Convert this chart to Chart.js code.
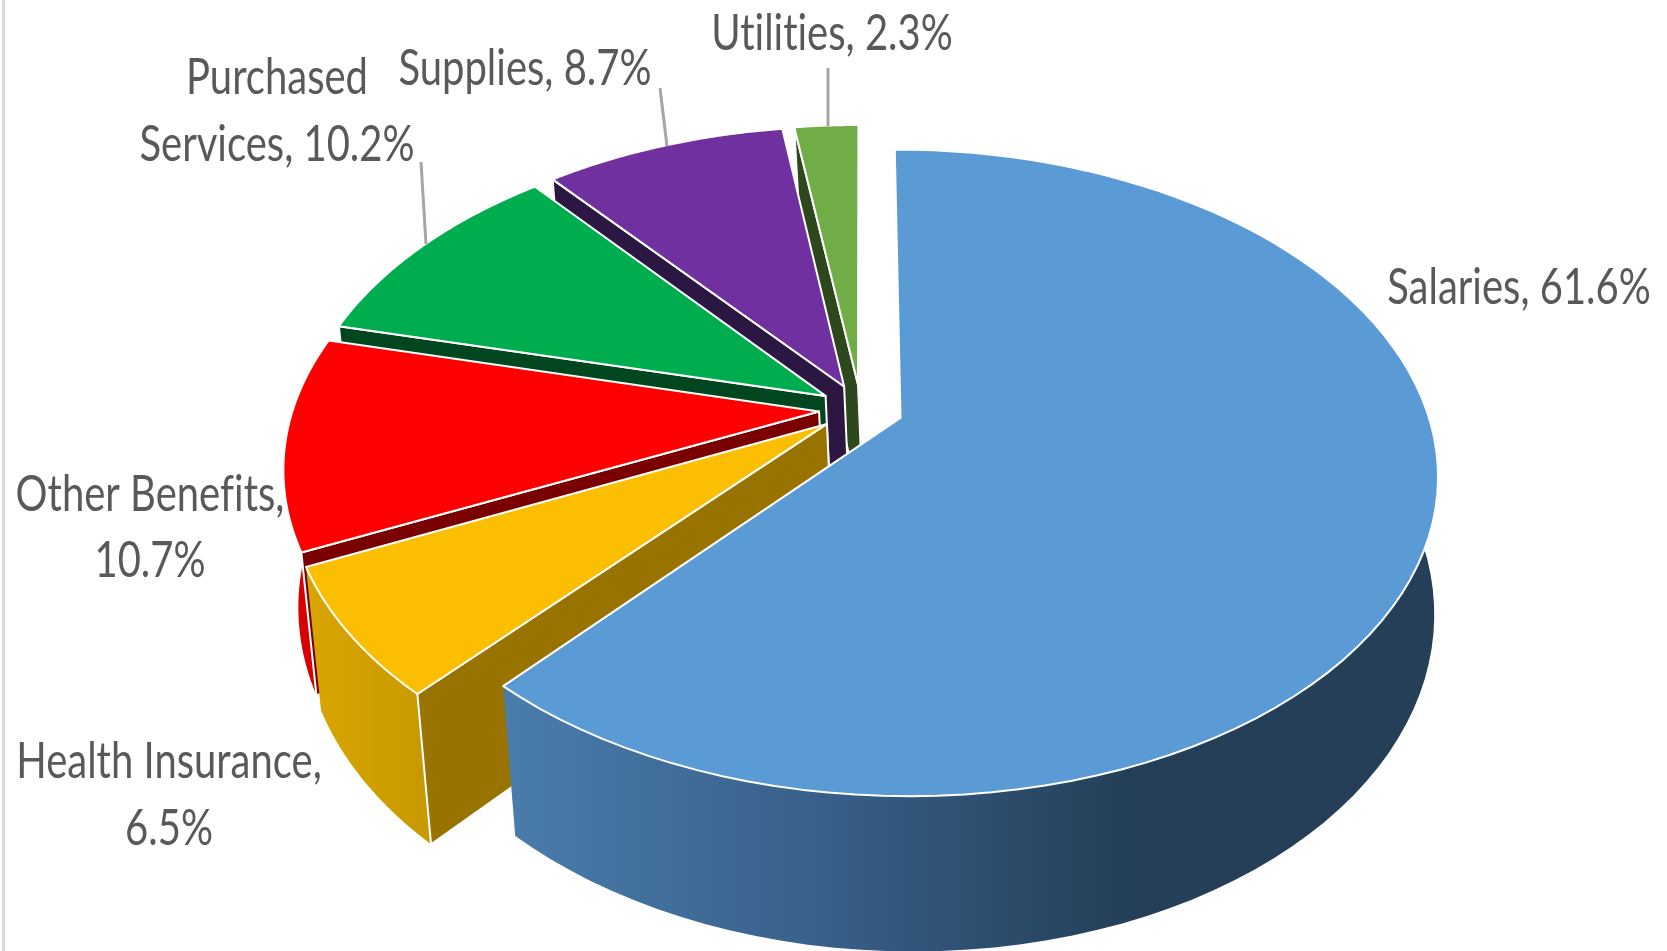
<!DOCTYPE html>
<html>
<head>
<meta charset="utf-8">
<title>Expenses by category</title>
<style>
  body { margin: 0; background: #fff; }
  #box { position: relative; width: 1667px; height: 951px; overflow: hidden; }
  #box::before { content: ""; position: absolute; left: 2px; top: 0; width: 3px; height: 951px; background: #d9d9d9; }
  canvas { display: block; }
</style>
<script src="https://cdn.jsdelivr.net/npm/chart.js@4"></script>
</head>
<body>
<div id="box"><canvas id="grafico" width="1667" height="951"></canvas></div>
<script>
const categories = ["Salaries", "Health Insurance", "Other Benefits", "Purchased Services", "Supplies", "Utilities"];
const values = [61.6, 6.5, 10.7, 10.2, 8.7, 2.3];

const topColors = ["#5b9bd5", "#fcbe00", "#ff0000", "#00ad4e", "#7030a0", "#70ad47"];
const cutColors = ["#2f5375", "#987300", "#7a0000", "#00471f", "#2c1642", "#2d481c"];
const sideColors = [
  [[0, "#4a7dac"], [0.5, "#38608a"], [1, "#243f57"]],
  [[0, "#d9a600"], [1, "#c79800"]],
  [[0, "#d80000"], [1, "#d80000"]],
  [[0, "#008c3e"], [1, "#008c3e"]],
  [[0, "#4d2170"], [1, "#4d2170"]],
  [[0, "#4f7a32"], [1, "#4f7a32"]]
];

// wrapped label rows, one list per category
const labelRows = [
  ["Salaries, 61.6%"],
  ["Health Insurance,", "6.5%"],
  ["Other Benefits,", "10.7%"],
  ["Purchased", "Services, 10.2%"],
  ["Supplies, 8.7%"],
  ["Utilities, 2.3%"]
];
const labelCentres = [[1519, 288], [169, 762], [150, 495], [277, 78], [525, 69], [832, 34]];
const rowGap = [0, 67, 66, 67, 0, 0];
const leaders = [
  [[828, 68], [828, 126]],
  [[660, 88], [667, 146]],
  [[421, 162], [426, 244]]
];

// tilted disc projection, u/v in disc radii and z from top face (0) to bottom face (1)
const cam = { x: 861, y: 409, rx: 526, ry: 311, tilt: 0.169, depth: 137, drop: 0.016, shear: 5.6 };
const explode = 0.08;

function project(u, v, z) {
  const w = 1 - cam.tilt * v + cam.drop * z;
  return [cam.x + cam.rx * u / w + cam.shear * z, cam.y + (cam.ry * v + cam.depth * z) / w];
}

function tracar(ctx, pts) {
  ctx.beginPath();
  pts.forEach((p, i) => (i ? ctx.lineTo(p[0], p[1]) : ctx.moveTo(p[0], p[1])));
  ctx.closePath();
}

function face(ctx, pts, fill) {
  tracar(ctx, pts);
  ctx.fillStyle = fill;
  ctx.fill();
  ctx.strokeStyle = "#fff";
  ctx.lineWidth = 2;
  ctx.lineJoin = "round";
  ctx.stroke();
}

function area(pts) {
  let soma = 0;
  pts.forEach((p, i) => {
    const q = pts[(i + 1) % pts.length];
    soma += p[0] * q[1] - q[0] * p[1];
  });
  return soma;
}

function drawSlice(ctx, arc, i) {
  const mid = (arc.startAngle + arc.endAngle) / 2;
  const ox = Math.cos(mid) * explode;
  const oy = Math.sin(mid) * explode;

  const rim = [];
  const steps = 90;
  for (let s = 0; s <= steps; s++) {
    const a = arc.startAngle + (arc.endAngle - arc.startAngle) * s / steps;
    rim.push([ox + Math.cos(a), oy + Math.sin(a)]);
  }
  const first = rim[0];
  const last = rim[steps];

  const at = (p, z) => project(p[0], p[1], z);
  const tip = [ox, oy];
  const upper = rim.map(p => at(p, 0));

  // curved wall only on slices that reach the front half
  if (Math.sin(mid) > -0.3) {
    const lower = rim.map(p => at(p, 1)).reverse();
    const xs = upper.concat(lower).map(p => p[0]);
    const grad = ctx.createLinearGradient(Math.min(...xs), 0, i === 0 ? 1130 : Math.max(...xs), 0);
    sideColors[i].forEach(c => grad.addColorStop(c[0], c[1]));
    tracar(ctx, upper.concat(lower));
    ctx.fillStyle = grad;
    ctx.fill();
  }

  // whichever cut wall faces the viewer, slivers under 4000 are left out
  const startWall = [at(tip, 0), at(first, 0), at(first, 1), at(tip, 1)];
  const endWall = [at(tip, 0), at(last, 0), at(last, 1), at(tip, 1)];
  if (area(startWall) < -4000) face(ctx, startWall, cutColors[i]);
  if (area(endWall) > 4000) face(ctx, endWall, cutColors[i]);

  face(ctx, [at(tip, 0)].concat(upper), topColors[i]);
}

const pie3d = {
  id: "pie3d",
  beforeDatasetsDraw(chart) {
    const arcs = chart.getDatasetMeta(0).data;
    const ctx = chart.ctx;
    ctx.save();
    // back slices go down first so the front ones cover them
    for (let i = arcs.length - 1; i >= 0; i--) drawSlice(ctx, arcs[i], i);
    ctx.restore();
    return false;
  },
  afterDraw(chart) {
    const ctx = chart.ctx;
    ctx.save();
    ctx.strokeStyle = "#a6a6a6";
    ctx.lineWidth = 3;
    leaders.forEach(l => {
      ctx.beginPath();
      ctx.moveTo(l[0][0], l[0][1]);
      ctx.lineTo(l[1][0], l[1][1]);
      ctx.stroke();
    });
    ctx.fillStyle = "#595959";
    ctx.font = "50px Lato";
    ctx.textRendering = "optimizeSpeed";
    ctx.textAlign = "center";
    ctx.textBaseline = "middle";
    labelRows.forEach((rows, i) => {
      rows.forEach((txt, r) => {
        ctx.save();
        ctx.translate(labelCentres[i][0], labelCentres[i][1] + r * rowGap[i]);
        ctx.scale(0.8, 1);
        ctx.fillText(txt, 0, 0);
        ctx.restore();
      });
    });
    ctx.restore();
  }
};

new Chart(document.getElementById("grafico"), {
  type: "pie",
  data: {
    labels: categories,
    datasets: [{ data: values, backgroundColor: topColors, borderColor: "#fff" }]
  },
  options: {
    responsive: false,
    animation: false,
    events: [],
    plugins: { legend: { display: false }, tooltip: { enabled: false } }
  },
  plugins: [pie3d]
});
</script>
</body>
</html>
